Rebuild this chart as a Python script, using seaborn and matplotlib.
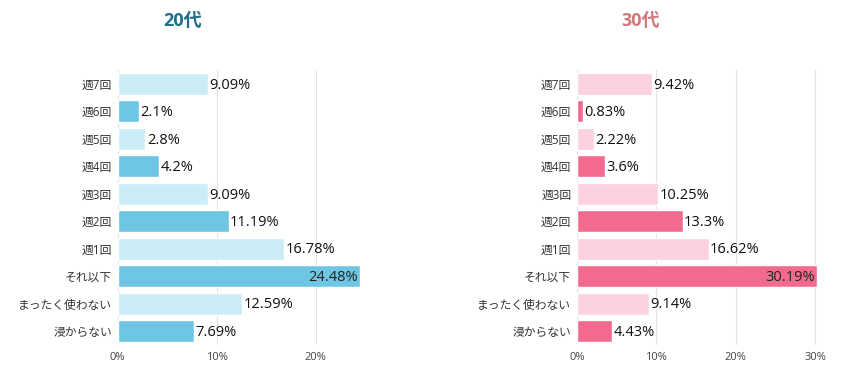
import matplotlib
matplotlib.use('Agg')
import matplotlib.pyplot as plt
import seaborn as sns

# Frequency categories and percentages per age group
categories = ['週7回', '週6回', '週5回', '週4回', '週3回', '週2回', '週1回',
              'それ以下', 'まったく使わない', '浸からない']
values_20s = [9.09, 2.1, 2.8, 4.2, 9.09, 11.19, 16.78, 24.48, 12.59, 7.69]
values_30s = [9.42, 0.83, 2.22, 3.6, 10.25, 13.3, 16.62, 30.19, 9.14, 4.43]
labels_20s = ['9.09%', '2.1%', '2.8%', '4.2%', '9.09%', '11.19%', '16.78%', '24.48%', '12.59%', '7.69%']
labels_30s = ['9.42%', '0.83%', '2.22%', '3.6%', '10.25%', '13.3%', '16.62%', '30.19%', '9.14%', '4.43%']

sns.set_style('white')
plt.rcParams['font.family'] = ['Open Sans', 'Noto Sans CJK JP', 'DejaVu Sans']

fig = plt.figure(figsize=(8.47, 3.74), dpi=100)
ax1 = fig.add_axes([0.139, 0.078, 0.2876, 0.735])
ax2 = fig.add_axes([0.681, 0.078, 0.284, 0.735])


def draw(ax, values, labels, light, dark, xmax, ticks):
    colors = [light if i % 2 == 0 else dark for i in range(len(categories))]
    sns.barplot(x=values, y=categories, hue=categories, palette=colors,
                legend=False, width=0.8, ax=ax, saturation=1)
    ax.set_xlim(0, xmax)
    ax.set_xticks(ticks)
    ax.set_xticklabels([f'{t}%' for t in ticks], fontsize=8, color='#444444')
    ax.tick_params(axis='y', labelsize=8.5, colors='#333333', length=0, pad=4)
    ax.tick_params(axis='x', length=0, pad=5)
    ax.grid(axis='x', color='#e4e4e4', linewidth=0.8)
    ax.set_axisbelow(True)
    for s in ax.spines.values():
        s.set_visible(False)
    ax.set_xlabel('')
    ax.set_ylabel('')
    top = max(values)
    for i, (v, lab) in enumerate(zip(values, labels)):
        if v == top:
            ax.text(v - 0.2, i + 0.05, lab, va='center', ha='right', fontsize=10.5, color='#222222')
        else:
            ax.text(v + 0.15, i + 0.05, lab, va='center', ha='left', fontsize=10.5, color='#111111')


draw(ax1, values_20s, labels_20s, '#cdedf6', '#6ec6e2', 24.6, [0, 10, 20])
draw(ax2, values_30s, labels_30s, '#fbd2dd', '#f26b8e', 30.25, [0, 10, 20, 30])

fig.text(0.215, 0.945, '20代', ha='center', va='center', fontsize=13,
         fontweight='bold', color='#1f6e8c')
fig.text(0.756, 0.945, '30代', ha='center', va='center', fontsize=13,
         fontweight='bold', color='#d07a7a')

fig.savefig('out.png', dpi=100)
